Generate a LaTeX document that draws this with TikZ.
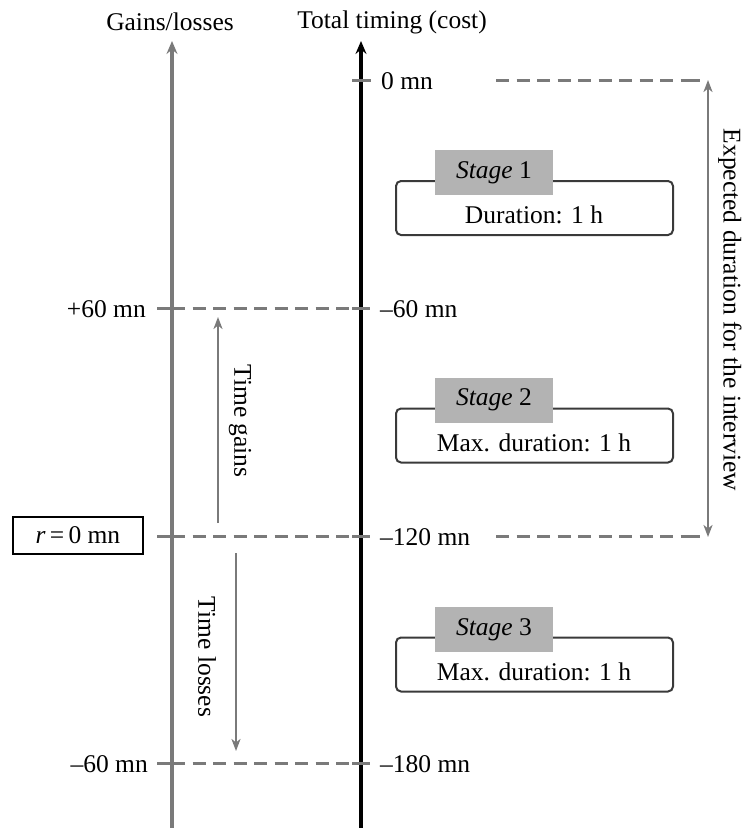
\documentclass[tikz,border=0pt]{standalone}
\usepackage{fontspec}
\setmainfont{Liberation Serif}
\usetikzlibrary{arrows.meta}
\definecolor{axgray}{HTML}{7A7A7A}
\definecolor{labgray}{HTML}{B3B3B3}
\definecolor{boxline}{HTML}{3A3A3A}
\begin{document}
\begin{tikzpicture}[x=1pt,y=-1pt,
  every node/.style={font=\fontsize{25.5}{30}\selectfont, inner sep=0pt},
  tip/.style={-{Stealth[length=13pt,width=11pt,inset=4.5pt]}},
  grayaxis/.style={draw=axgray, line width=3.2pt},
  blackaxis/.style={draw=black, line width=3.2pt},
  dashline/.style={draw=axgray, line width=3pt, dash pattern=on 13pt off 7.5pt},
  tickline/.style={draw=axgray, line width=3pt},
  arrowtip/.style={Stealth[length=12pt,width=9pt,inset=3.5pt]},
  smallarrow/.style={draw=axgray, line width=2.5pt, -{Stealth[length=12pt,width=9pt,inset=3.5pt]}},
  stagebox/.style={draw=boxline, line width=2pt, rounded corners=5pt, minimum width=277pt, minimum height=54pt},
  stagelabel/.style={fill=labgray, minimum width=118pt, minimum height=45pt},
  ticklab/.style={anchor=base west},
  ticklabl/.style={anchor=base east},
]
\useasboundingbox (0,0) rectangle (750,828);

% axis titles
\node (gltitle) at (170,22) {Gains/losses};
\node (tttitle) at (392,22) {Total timing (cost)};

% axes
\coordinate (gbot) at (172,830);
\coordinate (gtop) at (172,41);
\coordinate (bbot) at (361,830);
\coordinate (btop) at (361,41);
\draw[grayaxis, tip] (gbot) -- (gtop);
\draw[blackaxis, tip] (bbot) -- (btop);

% level coordinates
\coordinate (b0) at (361,80);
\coordinate (g60) at (172,308);  \coordinate (b60) at (361,308);
\coordinate (g120) at (172,536); \coordinate (b120) at (361,536);
\coordinate (g180) at (172,763); \coordinate (b180) at (361,763);

% ticks
\draw[tickline] (352,80) -- (371,80);
\foreach \y in {308,536,763}{
  \draw[tickline] (157,\y) -- (172,\y);
  \draw[tickline] (352,\y) -- (370,\y);
}
% dashed lines between axes
\draw[dashline] (g60) -- (b60);
\draw[dashline] (g120) -- (b120);
\draw[dashline] (g180) -- (b180);

% dashed lines to the right
\coordinate (r0a) at (496,80);  \coordinate (r0b) at (700,80);
\coordinate (r1a) at (496,536); \coordinate (r1b) at (700,536);
\draw[dashline] (r0a) -- (r0b);
\draw[dashline] (r1a) -- (r1b);
\draw[tickline] (687,80) -- (700,80);
\draw[tickline] (687,536) -- (700,536);

% tick labels
\node[ticklab] (l0) at (381,89) {0 mn};
\node[ticklab] (l60) at (380,317) {--60 mn};
\node[ticklab] (l120) at (380,545) {--120 mn};
\node[ticklab] (l180) at (380,772) {--180 mn};
\node[ticklabl] (lp60) at (146,317) {+60 mn};
\node[ticklabl] (lm60) at (148,772) {--60 mn};

% r box
\node[draw=black, line width=1.8pt, minimum width=130pt, minimum height=37pt] (rbox) at (78,535.5) {\itshape r\upshape\,=\,0 mn};

% expected duration arrow
\coordinate (ed1) at (708,80);
\coordinate (ed2) at (708,537);
\draw[draw=axgray, line width=2.5pt, {Stealth[length=12pt,width=9pt,inset=3.5pt]}-{Stealth[length=12pt,width=9pt,inset=3.5pt]}] (ed1) -- (ed2);
\node[rotate=-90] (edlab) at (730,310) {Expected duration for the interview};

% time gains / losses
\coordinate (tg1) at (218,523);
\coordinate (tg2) at (218,317);
\draw[smallarrow] (tg1) -- (tg2);
\node[rotate=-90] (tglab) at (240,421) {Time gains};
\coordinate (tl1) at (236,553);
\coordinate (tl2) at (236,751);
\draw[smallarrow] (tl1) -- (tl2);
\node[rotate=-90] (tllab) at (207,657) {Time losses};

% stages
\node[stagebox] (s1) at (534.5,208) {};
\node[stagelabel] (s1l) at (494,172.5) {\textit{Stage} 1};
\node (s1t) at (534,215) {Duration: 1 h};

\node[stagebox] (s2) at (534.5,435.5) {};
\node[stagelabel] (s2l) at (494,400) {\textit{Stage} 2};
\node (s2t) at (534,443) {Max. duration: 1 h};

\node[stagebox] (s3) at (534.5,664.5) {};
\node[stagelabel] (s3l) at (494,629.5) {\textit{Stage} 3};
\node (s3t) at (534,672) {Max. duration: 1 h};
\end{tikzpicture}
\end{document}
